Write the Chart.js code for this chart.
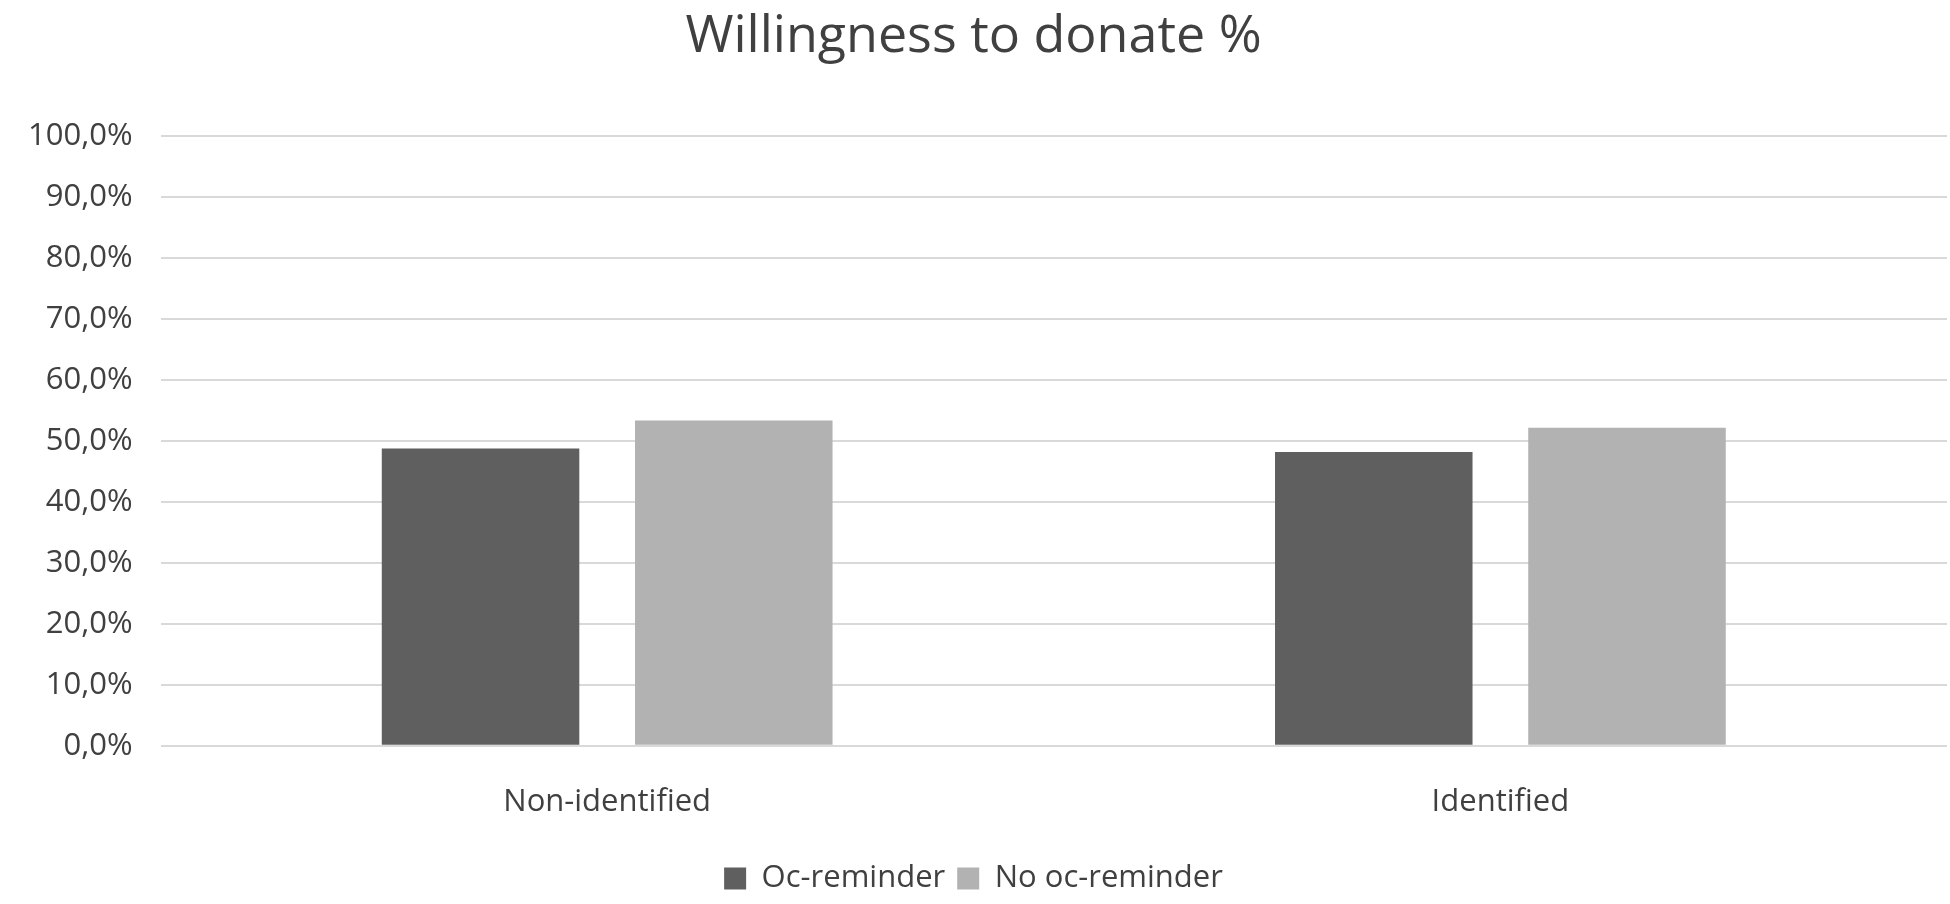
<!DOCTYPE html>
<html><head><meta charset="utf-8">
<script src="https://cdn.jsdelivr.net/npm/chart.js@4"></script>
<style>html,body{margin:0;padding:0;background:#fff;}canvas{display:block;}</style>
</head><body>
<canvas id="c" width="1950" height="904"></canvas>
<script>
const categories = ["Non-identified", "Identified"];
const seriesNames = ["Oc-reminder", "No oc-reminder"];
const ocReminder = [48.8, 48.2];
const noOcReminder = [53.4, 52.2];
const font = "'Open Sans', 'DejaVu Sans', sans-serif";
new Chart(document.getElementById('c'), {
  type: 'bar',
  data: {
    labels: categories,
    datasets: [
      {label: seriesNames[0], data: ocReminder, backgroundColor: '#5f5f5f'},
      {label: seriesNames[1], data: noOcReminder, backgroundColor: '#b2b2b2'}
    ]
  },
  options: {
    responsive: false, animation: false,
    devicePixelRatio: 1,
    categoryPercentage: 0.567, barPercentage: 0.78,
    layout: {padding: {left: 0, right: 3, top: 0, bottom: 0}},
    plugins: {
      title: {display: true, text: 'Willingness to donate %', color: '#404040',
        font: {family: font, size: 52, weight: 'normal'}, padding: {top: 6, bottom: 68}},
      legend: {position: 'bottom', labels: {color: '#404040', font: {family: font, size: 31},
        boxWidth: 22, boxHeight: 22, padding: 12}},
      tooltip: {enabled: false}
    },
    scales: {
      x: {grid: {display: false}, border: {display: false},
        ticks: {color: '#404040', font: {family: font, size: 31}, padding: 30}},
      y: {min: 0, max: 100, ticks: {stepSize: 10, color: '#404040', font: {family: font, size: 31}, padding: 28,
          callback: v => v.toFixed(1).replace('.', ',') + '%'},
        grid: {color: '#d9d9d9', lineWidth: 2, drawTicks: false}, border: {display: false}}
    }
  }
});
</script>
</body></html>
